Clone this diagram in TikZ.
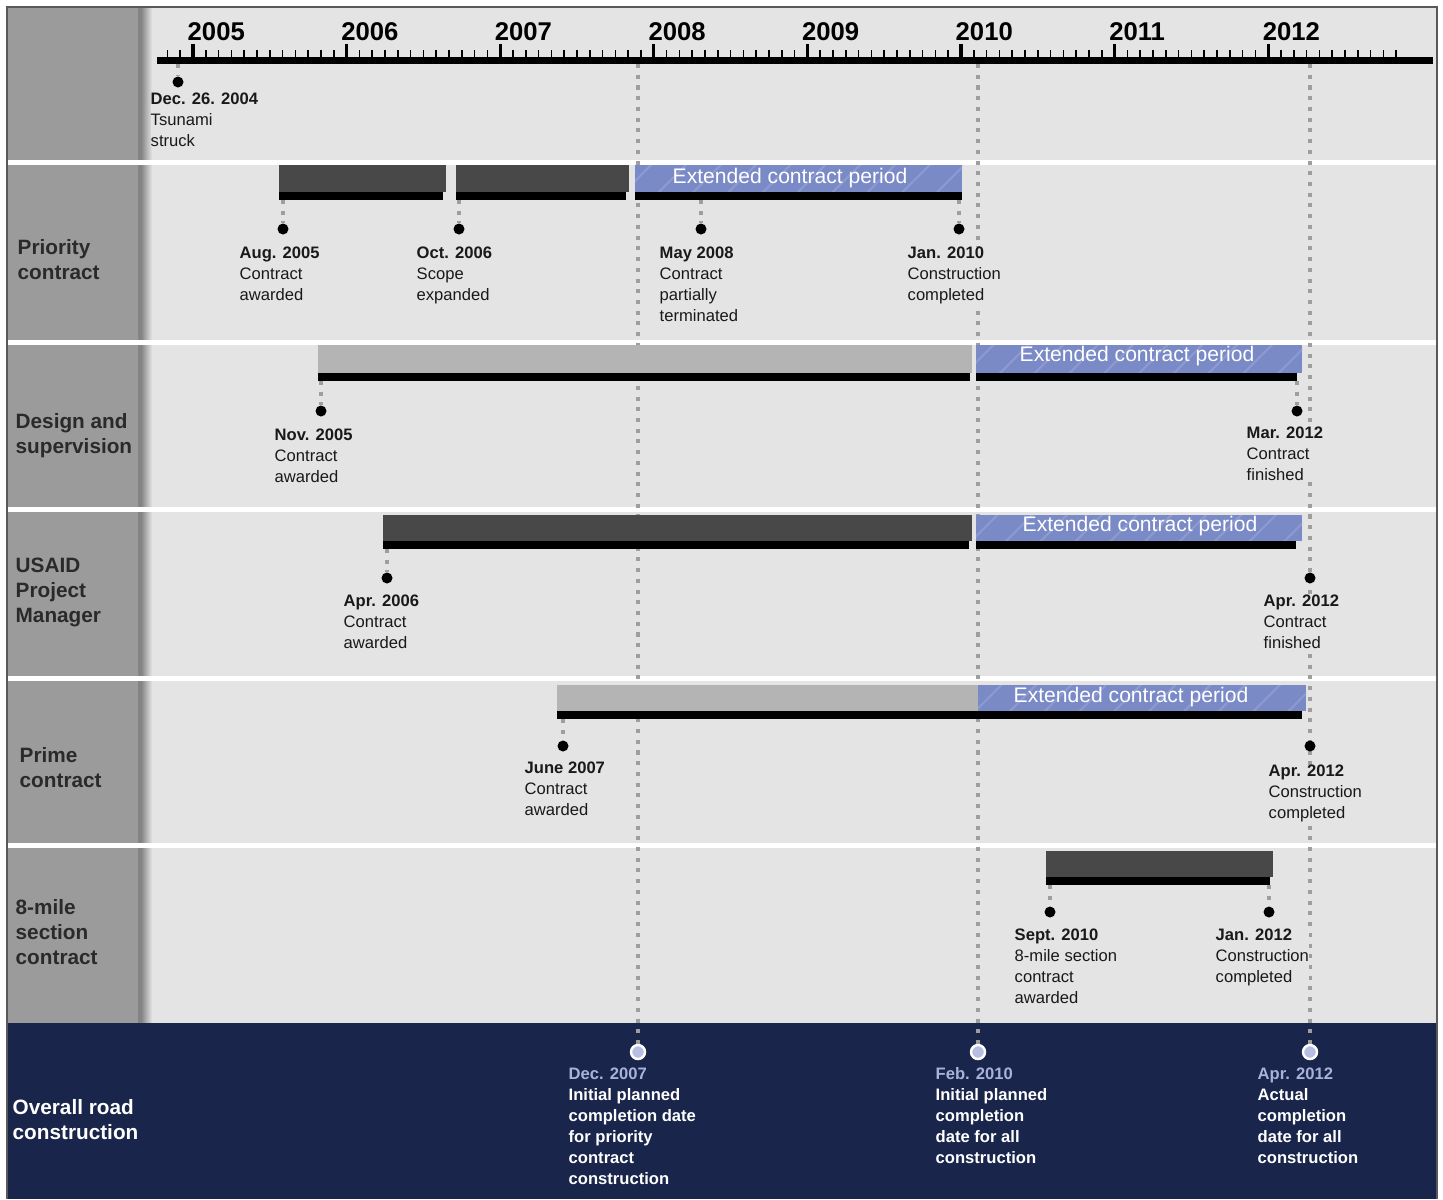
\documentclass[tikz,border=0pt]{standalone}
\usepackage{fontspec}
\setmainfont{Liberation Sans}
\usetikzlibrary{patterns.meta}
\definecolor{lanegray}{RGB}{228,228,228}
\definecolor{headgray}{RGB}{155,155,155}
\definecolor{darkbar}{RGB}{72,72,72}
\definecolor{lightbar}{RGB}{180,180,180}
\definecolor{extblue}{RGB}{122,138,198}
\definecolor{exthatch}{RGB}{140,154,208}
\definecolor{navy}{RGB}{25,37,74}
\definecolor{navydate}{RGB}{170,178,220}
\definecolor{guidegray}{RGB}{158,158,158}
\definecolor{labelink}{RGB}{42,42,42}
\newcommand{\smallfont}{\fontsize{4.72}{5.97}\selectfont}
\newcommand{\rowfont}{\fontsize{5.9}{7.1}\selectfont\bfseries}
\newcommand{\when}[2]{\textbf{#1}\\#2}
\newcommand{\goal}[2]{\textcolor{navydate}{#1}\\#2}
\newcommand{\dotsize}{0.11cm}
\newcommand{\eventdot}[4]{%
    \coordinate (#1top) at (#2,#3);
    \node[dot] (#1) at (#2,#4) {};
    \draw[stub] (#1top) -- (#1);}
\tikzset{
    event/.style={anchor=north west, align=left, inner sep=0pt, font=\smallfont, text=black!90, fill=lanegray},
    goaltext/.style={anchor=north west, align=left, inner sep=0pt, font=\smallfont\bfseries, text=white},
    rowname/.style={anchor=north west, align=left, inner sep=0pt, font=\rowfont, text=labelink},
    year/.style={anchor=base west, inner sep=0pt, font=\fontsize{7.3}{8}\selectfont\bfseries},
    dot/.style={circle, fill=black, inner sep=0pt, minimum size=\dotsize},
    milestone/.style={circle, fill=navydate!85!white, draw=white, line width=0.7pt, inner sep=0pt, minimum size=0.14cm},
    guide/.style={guidegray, line width=1.15pt, dash pattern=on 1.15pt off 1.9pt},
    stub/.style={guide},
    darkpart/.style={fill=darkbar},
    lightpart/.style={fill=lightbar},
    extpart/.style={fill=extblue, postaction={pattern={Lines[angle=45, distance=7pt, line width=0.6pt]}, pattern color=exthatch}},
    exttext/.style={text=white, inner sep=0pt, font=\fontsize{6}{7}\selectfont}
}
\begin{document}
\begin{tikzpicture}[x=0.01cm, y=-0.01cm]
\useasboundingbox (0,0) rectangle (1443,1199);
\fill[white] (0,0) rectangle (1443,1199);
\fill[lanegray] (7,7) rectangle (1437,1199);
\fill[headgray] (7,7) rectangle (138,1025);
\fill[headgray!85!black] (138,7) rectangle (142,1025);
\shade[left color=headgray!90!black, right color=lanegray] (142,7) rectangle (152,1025);
\foreach \y in {160,340,507,676,843}
    \fill[white] (7,\y) rectangle (1437,\y+5);
\fill[navy] (7,1023) rectangle (1437,1199);
\draw[black!65, line width=0.6pt] (7,1199) -- (7,7) -- (1437,7) -- (1437,1199);

\fill[black] (157,57) rectangle (1433,64);
\foreach \m in {-2,...,94}
    \draw[line width=0.45pt] ({193+\m*12.8},50) -- ({193+\m*12.8},57);
\foreach \yr in {2005,...,2012} {
    \draw[line width=0.9pt] ({193+(\yr-2005)*153.6},44) -- ({193+(\yr-2005)*153.6},57);
    \node[year] (y\yr) at ({187+(\yr-2005)*153.6},40) {\yr};
}

\node[rowname] (r1) at (17,239) {Priority\\contract};
\node[rowname] (r2) at (15,413) {Design and\\supervision};
\node[rowname] (r3) at (15,557) {USAID\\Project\\Manager};
\node[rowname] (r4) at (19,747) {Prime\\contract};
\node[rowname] (r5) at (15,899) {8-mile\\section\\contract};
\node[rowname, text=white] (r6) at (12,1099) {Overall road\\construction};

\coordinate (a1) at (638,64);
\coordinate (a2) at (978,64);
\coordinate (a3) at (1310,64);
\node[milestone] (g1) at (638,1052) {};
\node[milestone] (g2) at (978,1052) {};
\node[milestone] (g3) at (1310,1052) {};
\draw[guide] (a1) -- (g1);
\draw[guide] (a2) -- (g2);
\draw[guide] (a3) -- (g3);

\fill[darkpart] (279,165) rectangle (446,192);
\fill[black] (279,192) rectangle (443,200);
\fill[darkpart] (456,165) rectangle (629,192);
\fill[black] (456,192) rectangle (626,200);
\fill[extpart] (635,165) rectangle (962,192);
\fill[black] (635,192) rectangle (962,200);
\node[exttext] (x1) at (790,178) {Extended contract period};

\fill[lightpart] (318,345) rectangle (972,373);
\fill[black] (318,373) rectangle (970,381);
\fill[extpart] (976,345) rectangle (1302,373);
\fill[black] (976,373) rectangle (1297,381);
\node[exttext] (x2) at (1137,356) {Extended contract period};

\fill[darkpart] (383,515) rectangle (972,541);
\fill[black] (383,541) rectangle (969,549);
\fill[extpart] (976,515) rectangle (1302,541);
\fill[black] (976,541) rectangle (1296,549);
\node[exttext] (x3) at (1140,526) {Extended contract period};

\fill[lightpart] (557,685) rectangle (978,711);
\fill[extpart] (978,685) rectangle (1306,711);
\fill[black] (557,711) rectangle (1302,719);
\node[exttext] (x4) at (1131,697) {Extended contract period};

\fill[darkpart] (1046,851) rectangle (1273,877);
\fill[black] (1046,877) rectangle (1270,885);

\eventdot{d0}{178}{64}{82}
\eventdot{d11}{283}{200}{229}
\eventdot{d12}{459}{200}{229}
\eventdot{d13}{701}{200}{229}
\eventdot{d14}{959}{200}{229}
\eventdot{d21}{321}{381}{411}
\eventdot{d22}{1297}{381}{411}
\eventdot{d31}{387}{549}{578}
\node[dot] (d32) at (1310,578) {};
\eventdot{d41}{563}{719}{746}
\node[dot] (d42) at (1310,746) {};
\eventdot{d51}{1050}{885}{912}
\eventdot{d52}{1269}{885}{912}

\node[event] (t0) at (150,92) {\when{Dec. 26. 2004}{Tsunami\\struck}};
\node[event] (t11) at (239,246) {\when{Aug. 2005}{Contract\\awarded}};
\node[event] (t12) at (416,246) {\when{Oct. 2006}{Scope\\expanded}};
\node[event] (t13) at (659,246) {\when{May 2008}{Contract\\partially\\terminated}};
\node[event] (t14) at (907,246) {\when{Jan. 2010}{Construction\\completed}};
\node[event] (t21) at (274,428) {\when{Nov. 2005}{Contract\\awarded}};
\node[event] (t22) at (1246,426) {\when{Mar. 2012}{Contract\\finished}};
\node[event] (t31) at (343,594) {\when{Apr. 2006}{Contract\\awarded}};
\node[event] (t32) at (1263,594) {\when{Apr. 2012}{Contract\\finished}};
\node[event] (t41) at (524,761) {\when{June 2007}{Contract\\awarded}};
\node[event] (t42) at (1268,764) {\when{Apr. 2012}{Construction\\completed}};
\node[event] (t51) at (1014,928) {\when{Sept. 2010}{8-mile section\\contract\\awarded}};
\node[event] (t52) at (1215,928) {\when{Jan. 2012}{Construction\\completed}};

\node[goaltext] (n1) at (568,1067) {\goal{Dec. 2007}{Initial planned\\completion date\\for priority\\contract\\construction}};
\node[goaltext] (n2) at (935,1067) {\goal{Feb. 2010}{Initial planned\\completion\\date for all\\construction}};
\node[goaltext] (n3) at (1257,1067) {\goal{Apr. 2012}{Actual\\completion\\date for all\\construction}};
\end{tikzpicture}
\end{document}
